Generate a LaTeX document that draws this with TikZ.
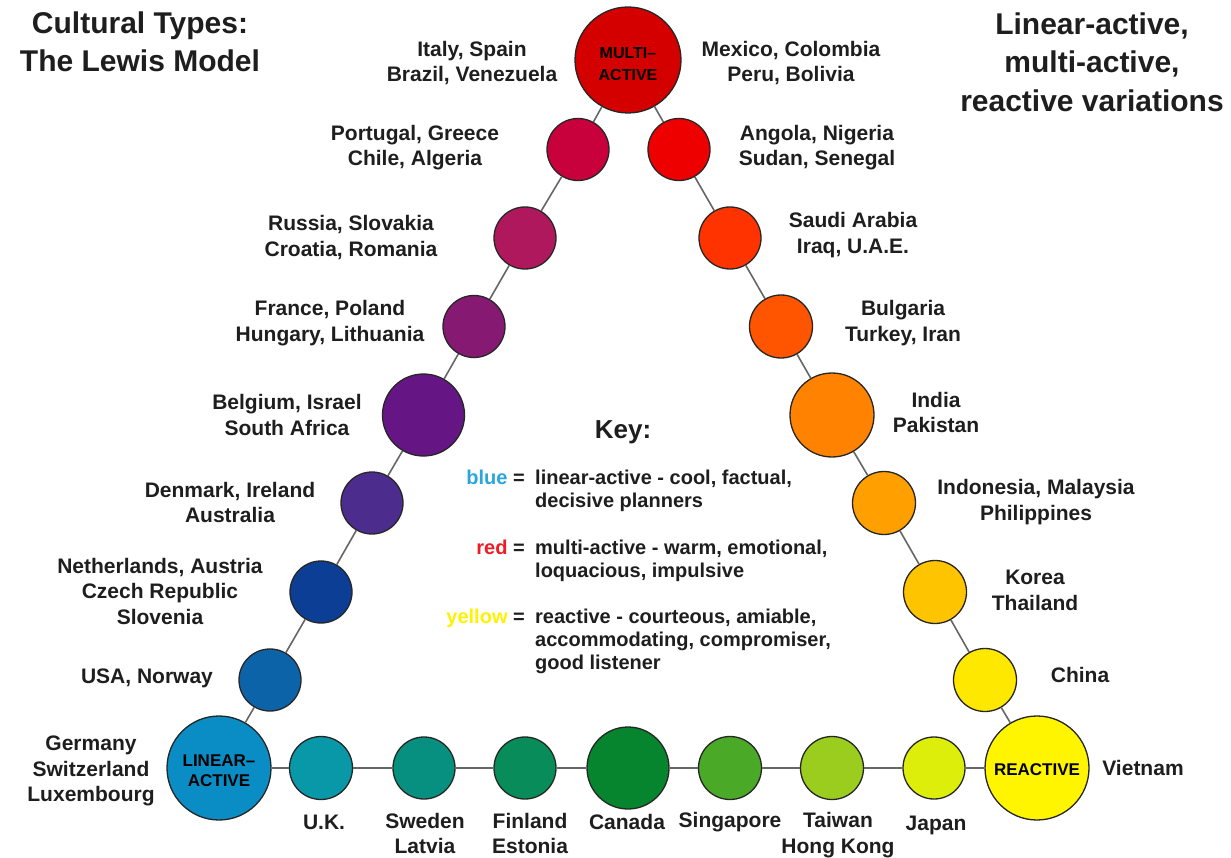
\documentclass[tikz,border=0pt]{standalone}
\usepackage{fontspec}
\setmainfont{Liberation Sans}
\definecolor{txt}{HTML}{1E1E1E}
\definecolor{cMultiC}{HTML}{D40000}
\definecolor{cPortugalC}{HTML}{C8003C}
\definecolor{cRussiaC}{HTML}{B0185E}
\definecolor{cFranceC}{HTML}{861A73}
\definecolor{cBelgiumC}{HTML}{661585}
\definecolor{cDenmarkC}{HTML}{4C2D8E}
\definecolor{cNetherC}{HTML}{0D3E96}
\definecolor{cUSAC}{HTML}{0D63A8}
\definecolor{cLinearC}{HTML}{0A8CC4}
\definecolor{cUKC}{HTML}{0898A8}
\definecolor{cSwedenC}{HTML}{079080}
\definecolor{cFinlandC}{HTML}{078C5A}
\definecolor{cCanadaC}{HTML}{06852E}
\definecolor{cSingaporeC}{HTML}{4AAA28}
\definecolor{cTaiwanC}{HTML}{9ACD1E}
\definecolor{cJapanC}{HTML}{DDEE0A}
\definecolor{cReactiveC}{HTML}{FFF500}
\definecolor{cChinaC}{HTML}{FFE800}
\definecolor{cKoreaC}{HTML}{FFC400}
\definecolor{cIndonesiaC}{HTML}{FFA000}
\definecolor{cIndiaC}{HTML}{FF8200}
\definecolor{cBulgariaC}{HTML}{FF5500}
\definecolor{cSaudiC}{HTML}{FF3300}
\definecolor{cAngolaC}{HTML}{EE0000}
\definecolor{keyblue}{HTML}{2AA7DF}
\definecolor{keyred}{HTML}{EE1C25}
\definecolor{keyyellow}{HTML}{FFF200}
\begin{document}
\begin{tikzpicture}[x=1pt,y=-1pt,
  dot/.style={circle, draw=black!85, line width=1.3pt, inner sep=0pt},
  link/.style={draw=black!60, line width=1.6pt},
  lbl/.style={align=center, inner sep=0pt, text=txt, font=\bfseries\fontsize{21}{25.5}\selectfont},
  title/.style={align=center, inner sep=0pt, text=txt, font=\bfseries\fontsize{30}{38.5}\selectfont},
  inlbl/.style={align=center, inner sep=0pt, text=black, font=\bfseries\fontsize{17}{20}\selectfont},
  keytxt/.style={inner sep=0pt, text=txt, font=\bfseries\fontsize{20}{23}\selectfont}]
\path[use as bounding box, fill=white] (0,0) rectangle (1231,858);

% titles
\node[title] (t1) at (140,42) {Cultural Types:\\The Lewis Model};
\node[title] (t2) at (1092,62) {Linear-active,\\multi-active,\\reactive variations};

% circles
\node[dot, minimum size=106pt, fill=cMultiC] (multi) at (628,60) {};
\node[dot, minimum size=62pt, fill=cPortugalC] (portugal) at (578,149.5) {};
\node[dot, minimum size=62pt, fill=cRussiaC] (russia) at (525,238) {};
\node[dot, minimum size=62pt, fill=cFranceC] (france) at (474,326.5) {};
\node[dot, minimum size=82pt, fill=cBelgiumC] (belgium) at (423.5,415) {};
\node[dot, minimum size=62pt, fill=cDenmarkC] (denmark) at (372,503) {};
\node[dot, minimum size=62pt, fill=cNetherC] (nether) at (321,592) {};
\node[dot, minimum size=62pt, fill=cUSAC] (usa) at (270,680) {};
\node[dot, minimum size=104pt, fill=cLinearC] (linear) at (219,768) {};
\node[dot, minimum size=63pt, fill=cUKC] (uk) at (321,768) {};
\node[dot, minimum size=62pt, fill=cSwedenC] (sweden) at (424,768) {};
\node[dot, minimum size=62pt, fill=cFinlandC] (finland) at (525,768) {};
\node[dot, minimum size=82pt, fill=cCanadaC] (canada) at (628,768) {};
\node[dot, minimum size=63pt, fill=cSingaporeC] (singapore) at (730,768) {};
\node[dot, minimum size=63pt, fill=cTaiwanC] (taiwan) at (832,768) {};
\node[dot, minimum size=62pt, fill=cJapanC] (japan) at (934,768) {};
\node[dot, minimum size=104pt, fill=cReactiveC] (reactive) at (1037,768) {};
\node[dot, minimum size=63pt, fill=cChinaC] (china) at (985,680) {};
\node[dot, minimum size=63pt, fill=cKoreaC] (korea) at (935,592) {};
\node[dot, minimum size=63pt, fill=cIndonesiaC] (indonesia) at (884,503) {};
\node[dot, minimum size=84pt, fill=cIndiaC] (india) at (832,415) {};
\node[dot, minimum size=63pt, fill=cBulgariaC] (bulgaria) at (781,326.5) {};
\node[dot, minimum size=62pt, fill=cSaudiC] (saudi) at (730,238) {};
\node[dot, minimum size=62pt, fill=cAngolaC] (angola) at (679,149.5) {};

% connectors
\draw[link] (multi) -- (portugal);
\draw[link] (portugal) -- (russia);
\draw[link] (russia) -- (france);
\draw[link] (france) -- (belgium);
\draw[link] (belgium) -- (denmark);
\draw[link] (denmark) -- (nether);
\draw[link] (nether) -- (usa);
\draw[link] (usa) -- (linear);
\draw[link] (linear) -- (uk);
\draw[link] (uk) -- (sweden);
\draw[link] (sweden) -- (finland);
\draw[link] (finland) -- (canada);
\draw[link] (canada) -- (singapore);
\draw[link] (singapore) -- (taiwan);
\draw[link] (taiwan) -- (japan);
\draw[link] (japan) -- (reactive);
\draw[link] (multi) -- (angola);
\draw[link] (angola) -- (saudi);
\draw[link] (saudi) -- (bulgaria);
\draw[link] (bulgaria) -- (india);
\draw[link] (india) -- (indonesia);
\draw[link] (indonesia) -- (korea);
\draw[link] (korea) -- (china);
\draw[link] (china) -- (reactive);

% labels inside big circles
\node[inlbl, font=\bfseries\fontsize{16}{22}\selectfont] (multiL) at (628,64) {MULTI–\\ACTIVE};
\node[inlbl] (linearL) at (219,771) {LINEAR–\\ACTIVE};
\node[inlbl] (reactiveL) at (1037,770) {REACTIVE};

% country labels
\node[lbl] (lItaly) at (472,63) {Italy, Spain\\Brazil, Venezuela};
\node[lbl] (lMexico) at (791,63) {Mexico, Colombia\\Peru, Bolivia};
\node[lbl] (lPortugal) at (415,147.5) {Portugal, Greece\\Chile, Algeria};
\node[lbl] (lAngola) at (817,147.5) {Angola, Nigeria\\Sudan, Senegal};
\node[lbl] (lRussia) at (351,237.5) {Russia, Slovakia\\Croatia, Romania};
\node[lbl] (lSaudi) at (853,235) {Saudi Arabia\\Iraq, U.A.E.};
\node[lbl] (lFrance) at (330,323) {France, Poland\\Hungary, Lithuania};
\node[lbl] (lBulgaria) at (903,323) {Bulgaria\\Turkey, Iran};
\node[lbl] (lBelgium) at (287,415) {Belgium, Israel\\South Africa};
\node[lbl] (lIndia) at (936,412.5) {India\\Pakistan};
\node[lbl] (lDenmark) at (230,502.5) {Denmark, Ireland\\Australia};
\node[lbl] (lIndonesia) at (1036,502) {Indonesia, Malaysia\\Philippines};
\node[lbl] (lNether) at (160,591) {Netherlands, Austria\\Czech Republic\\Slovenia};
\node[lbl] (lKorea) at (1035,590.5) {Korea\\Thailand};
\node[lbl] (lUSA) at (147,678) {USA, Norway};
\node[lbl] (lChina) at (1080,675) {China};
\node[lbl] (lGermany) at (91,771) {Germany\\Switzerland\\Luxembourg};
\node[lbl] (lVietnam) at (1143,768) {Vietnam};
\node[lbl] (lUK) at (324,822) {U.K.};
\node[lbl] (lSweden) at (425,833.5) {Sweden\\Latvia};
\node[lbl] (lFinland) at (530,833.5) {Finland\\Estonia};
\node[lbl] (lCanada) at (627,822) {Canada};
\node[lbl] (lSingapore) at (730,822) {Singapore};
\node[lbl] (lTaiwan) at (838,835) {Taiwan\\Hong Kong};
\node[lbl] (lJapan) at (936,825) {Japan};

% key
\node[inner sep=0pt, text=txt, font=\bfseries\fontsize{26}{30}\selectfont] (keyT) at (623,432) {Key:};
\node[keytxt, anchor=north east] (keyL) at (525,468) {\begin{tabular}{@{}r@{}}
\textcolor{keyblue}{blue} =\\ \\[24pt]
\textcolor{keyred}{red} =\\ \\[23pt]
\textcolor{keyyellow}{yellow} =\\ \\ \\
\end{tabular}};
\node[keytxt, anchor=north west] (keyR) at (535,468) {\begin{tabular}{@{}l@{}}
linear-active - cool, factual,\\ decisive planners\\[24pt]
multi-active - warm, emotional,\\ loquacious, impulsive\\[23pt]
reactive - courteous, amiable,\\ accommodating, compromiser,\\ good listener\\
\end{tabular}};
\end{tikzpicture}
\end{document}
